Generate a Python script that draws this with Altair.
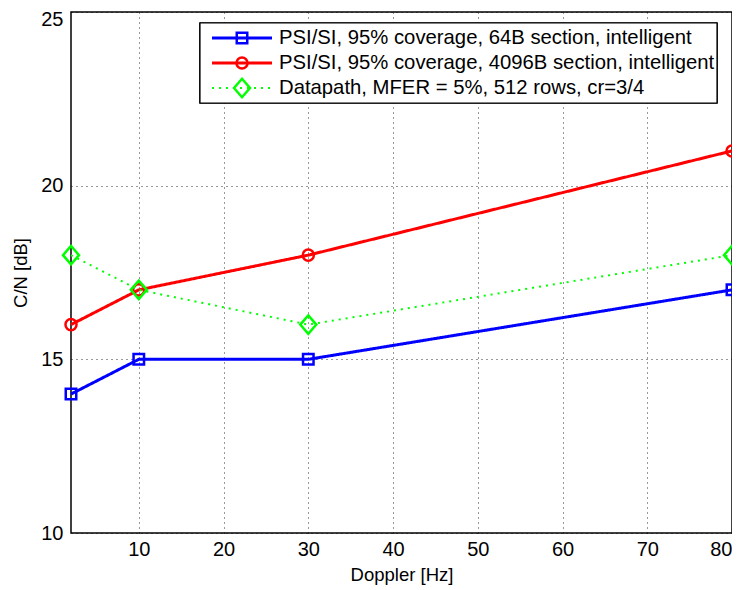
import altair as alt
import pandas as pd

doppler = [2, 10, 30, 80]
psi_64 = [14, 15, 15, 17]
psi_4096 = [16, 17, 18, 21]
datapath = [18, 17, 16, 18]
names = [
    "PSI/SI, 95% coverage, 64B section, intelligent",
    "PSI/SI, 95% coverage, 4096B section, intelligent",
    "Datapath, MFER = 5%, 512 rows, cr=3/4",
]
colors = ["#0000ff", "#ff0000", "#00ff00"]
x_ticks = [10, 20, 30, 40, 50, 60, 70, 80]
y_ticks = [10, 15, 20, 25]

rows = []
for name, vals in zip(names, [psi_64, psi_4096, datapath]):
    for xv, yv in zip(doppler, vals):
        rows.append({"x": xv, "y": yv, "series": name})
df = pd.DataFrame(rows)
leg = pd.DataFrame({"series": names})

W, H = 661, 521
xs = alt.Scale(domain=[2, 80], nice=False, zero=False)
ys = alt.Scale(domain=[10, 25], nice=False, zero=False)

diamond = "M0,-1.15L1,0L0,1.15L-1,0Z"
shapes = ["square", "circle", diamond]
sizes = [110, 123, 256]
dashes = [[1, 0], [1, 0], [2, 5]]
widths = [3, 3, 2]

base = alt.Chart(df)
layers = []
axis_layer = base.mark_line(opacity=0).encode(
    x=alt.X("x:Q", scale=xs, title="Doppler [Hz]",
            axis=alt.Axis(values=x_ticks, grid=True, titlePadding=6, labelPadding=6)),
    y=alt.Y("y:Q", scale=ys, title="C/N [dB]",
            axis=alt.Axis(values=y_ticks, grid=True, titlePadding=10, labelPadding=8,
                          labelOffset={"condition": {"test": "datum.value == 25", "value": 7},
                                       "value": 0})),
)
layers.append(axis_layer)
for i, name in enumerate(names):
    b = base.transform_filter(alt.datum.series == name)
    line = b.mark_line(color=colors[i], strokeWidth=widths[i], strokeDash=dashes[i]).encode(
        x=alt.X("x:Q", scale=xs), y=alt.Y("y:Q", scale=ys))
    pts = b.mark_point(shape=shapes[i], size=sizes[i], color=colors[i], filled=False,
                       strokeWidth=2.5, opacity=1).encode(
        x=alt.X("x:Q", scale=xs), y=alt.Y("y:Q", scale=ys))
    layers += [line, pts]

# legend
lb = alt.Chart(leg)
layers.append(lb.mark_rect(fill="white", stroke="black", strokeWidth=1.2).encode(
    x=alt.value(129), x2=alt.value(646), y=alt.value(11), y2=alt.value(91)))
row_y = [26, 51, 76]
for i, name in enumerate(names):
    b = lb.transform_filter(alt.datum.series == name)
    layers.append(b.mark_rule(color=colors[i], strokeWidth=widths[i], strokeDash=dashes[i]).encode(
        x=alt.value(141), x2=alt.value(201), y=alt.value(row_y[i])))
    layers.append(b.mark_point(shape=shapes[i], size=sizes[i], color=colors[i], filled=False,
                               strokeWidth=2.5, opacity=1).encode(
        x=alt.value(171), y=alt.value(row_y[i])))
    layers.append(b.mark_text(align="left", baseline="middle", fontSize=20.3,
                              font="Liberation Sans", color="black").encode(
        x=alt.value(208), y=alt.value(row_y[i]), text="series:N"))

chart = alt.layer(*layers).properties(
    width=W, height=H,
    autosize=alt.AutoSizeParams(type="none"),
    padding={"left": 63, "top": 4, "right": 0, "bottom": 54},
    background="white",
).configure_view(stroke="black", strokeWidth=1.5).configure_axis(
    labelFont="Liberation Sans", titleFont="Liberation Sans",
    labelFontSize=20, titleFontSize=18.5, titleFontWeight="normal",
    labelColor="black", titleColor="black",
    domain=False, ticks=False,
    gridColor="black", gridDash=[1, 4], gridOpacity=0.8, gridWidth=1,
)

chart.save("out.html", embed_options={"renderer": "svg", "actions": False})
